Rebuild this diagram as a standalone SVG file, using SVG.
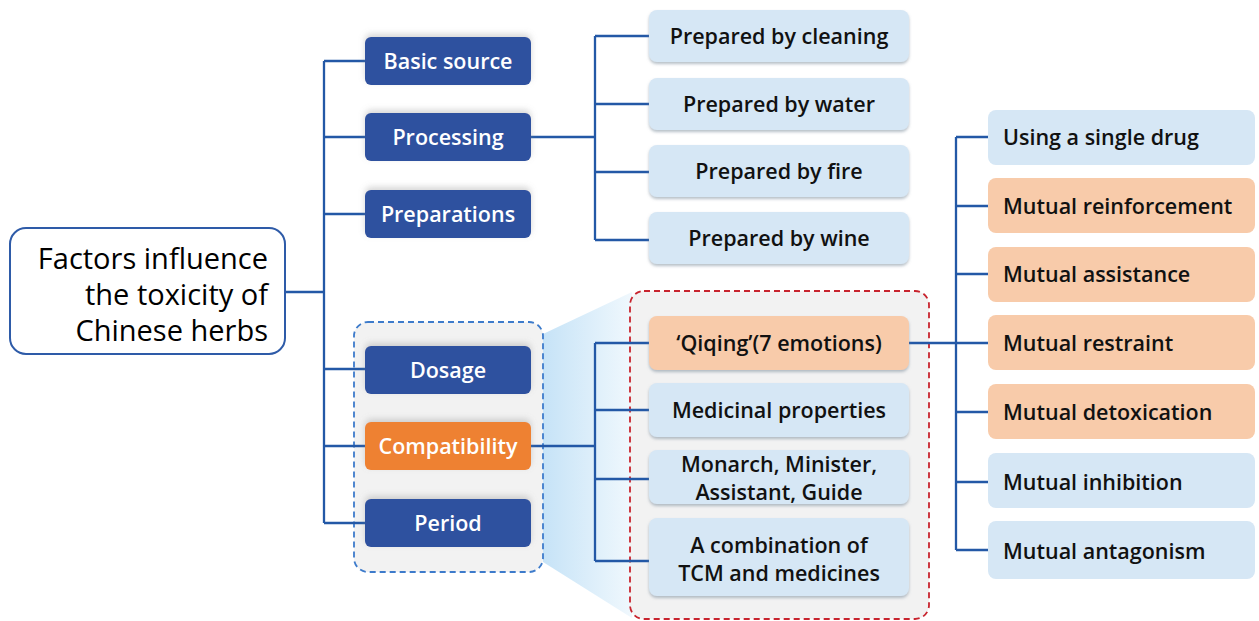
<svg xmlns="http://www.w3.org/2000/svg" width="1259" height="621" viewBox="0 0 1259 621">
<defs>
<filter id="sh" x="-10%" y="-20%" width="120%" height="150%">
<feDropShadow dx="0" dy="2" stdDeviation="1.5" flood-color="#7a8a9a" flood-opacity="0.55"/>
</filter>
<filter id="sh2" x="-10%" y="-30%" width="120%" height="160%">
<feDropShadow dx="0" dy="-3" stdDeviation="3" flood-color="#888" flood-opacity="0.35"/>
</filter>
<linearGradient id="funnel" x1="0" y1="0" x2="1" y2="0">
<stop offset="0" stop-color="#c6e3f7"/>
<stop offset="1" stop-color="#f0f8fd"/>
</linearGradient>
</defs>
<style>
.conn{fill:none;stroke:#2358A6;stroke-width:2.3}
.dk rect{fill:#2E519F}
.dk text{fill:#fff;font-family:"Open Sans","Liberation Sans",sans-serif;font-size:21.5px;font-weight:600;text-anchor:middle}
.lb rect{fill:#D6E7F5}
.lo rect{fill:#F8CBAA}
.lb text,.lo text{fill:#111;font-family:"Open Sans","Liberation Sans",sans-serif;font-size:21.5px;font-weight:600}
.c text{text-anchor:middle}
.l text{text-anchor:start}
</style>
<rect width="1259" height="621" fill="#fff"/>

<!-- zoom funnel and frames -->
<polygon points="543,334 632,292 632,618 543,562" fill="url(#funnel)"/>
<rect x="354" y="322" width="189" height="250" rx="14" fill="#F2F2F2" stroke="#3D7BCB" stroke-width="1.8" stroke-dasharray="6,4"/>
<rect x="630" y="291" width="299" height="328" rx="14" fill="#F2F2F2" stroke="#C8242E" stroke-width="1.8" stroke-dasharray="6,4"/>

<g id="connectors">
<path class="conn" d="M285,292 H324 M324,61 V523 M324,61 H365 M324,137 H365 M324,214 H365 M324,369 H365 M324,446 H365 M324,523 H365"/>
<path class="conn" d="M531,137 H595 M595,36 V240 M595,36 H649 M595,104 H649 M595,172 H649 M595,240 H649"/>
<path class="conn" d="M531,446 H595 M595,343 V561 M595,343 H649 M595,410 H649 M595,479 H649 M595,561 H649"/>
<path class="conn" d="M909,343 H988 M956,137 V550 M956,137 H988 M956,206 H988 M956,274 H988 M956,412 H988 M956,482 H988 M956,550 H988"/>
</g>

<g id="root">
<rect x="10" y="228" width="275" height="126" rx="16" fill="#fff" stroke="#2E5BA8" stroke-width="2"/>
<text font-family="'Open Sans','Liberation Sans',sans-serif" font-size="29" fill="#000" text-anchor="end"><tspan x="268" y="269">Factors influence</tspan><tspan x="268" y="305">the toxicity of</tspan><tspan x="268" y="341">Chinese herbs</tspan></text>
</g>

<g id="basic-source" class="dk"><rect x="365" y="37" width="166" height="48" rx="6" filter="url(#sh2)"/><text x="448" y="69">Basic source</text></g>
<g id="processing" class="dk"><rect x="365" y="113" width="166" height="48" rx="6" filter="url(#sh2)"/><text x="448" y="145">Processing</text></g>
<g id="preparations" class="dk"><rect x="365" y="190" width="166" height="48" rx="6" filter="url(#sh2)"/><text x="448" y="222">Preparations</text></g>
<g id="dosage" class="dk"><rect x="365" y="346" width="166" height="48" rx="6" filter="url(#sh2)"/><text x="448" y="378">Dosage</text></g>
<g id="compatibility" class="dk"><rect x="365" y="422" width="166" height="48" rx="6" style="fill:#EE8132" filter="url(#sh2)"/><text x="448" y="454">Compatibility</text></g>
<g id="period" class="dk"><rect x="365" y="499" width="166" height="48" rx="6" filter="url(#sh2)"/><text x="448" y="531">Period</text></g>

<g id="prep-cleaning" class="lb c"><rect x="649" y="10" width="260" height="52" rx="8" filter="url(#sh)"/><text x="779" y="44">Prepared by cleaning</text></g>
<g id="prep-water" class="lb c"><rect x="649" y="78" width="260" height="52" rx="8" filter="url(#sh)"/><text x="779" y="112">Prepared by water</text></g>
<g id="prep-fire" class="lb c"><rect x="649" y="145" width="260" height="52" rx="8" filter="url(#sh)"/><text x="779" y="179">Prepared by fire</text></g>
<g id="prep-wine" class="lb c"><rect x="649" y="212" width="260" height="52" rx="8" filter="url(#sh)"/><text x="779" y="246">Prepared by wine</text></g>

<g id="qiqing" class="lo c"><rect x="649" y="316" width="260" height="54" rx="8" filter="url(#sh)"/><text x="779" y="351">‘Qiqing’(7 emotions)</text></g>
<g id="medicinal" class="lb c"><rect x="649" y="383" width="260" height="54" rx="8" filter="url(#sh)"/><text x="779" y="418">Medicinal properties</text></g>
<g id="monarch" class="lb c"><rect x="649" y="450" width="260" height="54" rx="8" filter="url(#sh)"/><text><tspan x="779" y="472">Monarch, Minister,</tspan><tspan x="779" y="500">Assistant, Guide</tspan></text></g>
<g id="combination" class="lb c"><rect x="649" y="518" width="260" height="78" rx="8" filter="url(#sh)"/><text><tspan x="779" y="553">A combination of</tspan><tspan x="779" y="581">TCM and medicines</tspan></text></g>

<g id="single-drug" class="lb l"><rect x="988" y="110" width="267" height="55" rx="8"/><text x="1003" y="145">Using a single drug</text></g>
<g id="reinforcement" class="lo l"><rect x="988" y="178" width="267" height="55" rx="8"/><text x="1003" y="214">Mutual reinforcement</text></g>
<g id="assistance" class="lo l"><rect x="988" y="247" width="267" height="55" rx="8"/><text x="1003" y="282">Mutual assistance</text></g>
<g id="restraint" class="lo l"><rect x="988" y="315" width="267" height="55" rx="8"/><text x="1003" y="351">Mutual restraint</text></g>
<g id="detoxication" class="lo l"><rect x="988" y="384" width="267" height="55" rx="8"/><text x="1003" y="420">Mutual detoxication</text></g>
<g id="inhibition" class="lb l"><rect x="988" y="453" width="267" height="55" rx="8"/><text x="1003" y="490">Mutual inhibition</text></g>
<g id="antagonism" class="lb l"><rect x="988" y="521" width="267" height="58" rx="8"/><text x="1003" y="559">Mutual antagonism</text></g>
</svg>
